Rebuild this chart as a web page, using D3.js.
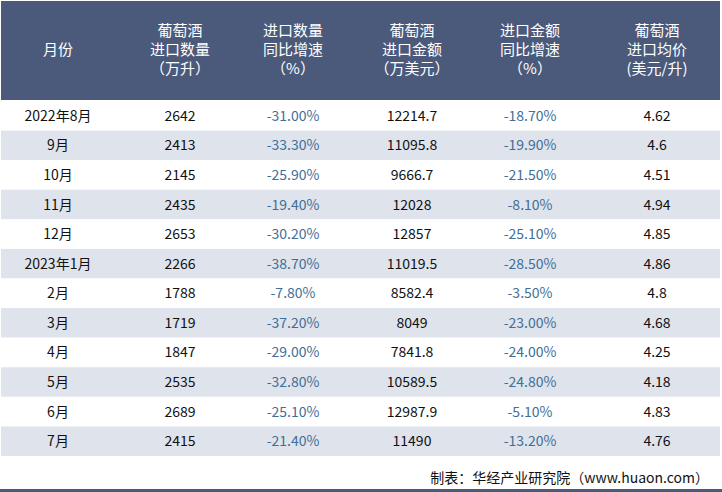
<!DOCTYPE html>
<html><head><meta charset="utf-8">
<script src="https://cdn.jsdelivr.net/npm/d3@7"></script>
<style>body{margin:0;background:#fff}</style>
</head><body><div id="app"></div>
<script>
// table data
const headers = [["月份"], ["葡萄酒", "进口数量", "（万升）"], ["进口数量", "同比增速", "（%）"],
  ["葡萄酒", "进口金额", "（万美元）"], ["进口金额", "同比增速", "（%）"], ["葡萄酒", "进口均价", "(美元/升)"]];
const months = ["2022年8月", "9月", "10月", "11月", "12月", "2023年1月", "2月", "3月", "4月", "5月", "6月", "7月"];
const volume = ["2642", "2413", "2145", "2435", "2653", "2266", "1788", "1719", "1847", "2535", "2689", "2415"];
const volumeYoy = ["-31.00%", "-33.30%", "-25.90%", "-19.40%", "-30.20%", "-38.70%", "-7.80%", "-37.20%", "-29.00%", "-32.80%", "-25.10%", "-21.40%"];
const amount = ["12214.7", "11095.8", "9666.7", "12028", "12857", "11019.5", "8582.4", "8049", "7841.8", "10589.5", "12987.9", "11490"];
const amountYoy = ["-18.70%", "-19.90%", "-21.50%", "-8.10%", "-25.10%", "-28.50%", "-3.50%", "-23.00%", "-24.00%", "-24.80%", "-5.10%", "-13.20%"];
const price = ["4.62", "4.6", "4.51", "4.94", "4.85", "4.86", "4.8", "4.68", "4.25", "4.18", "4.83", "4.76"];
const source = "制表：华经产业研究院（www.huaon.com）";

const W = 722, H = 492;
const svg = d3.select("#app").append("svg").attr("width", W).attr("height", H)
  .style("font-family", "'Noto Sans CJK SC', sans-serif");

const cols = [0, 1, 2, 3, 4, 5];
const x = d3.scaleBand().domain(cols).range([0, 718]);
const colCenters = [58, 180, 293, 412, 530, 657];
const y = d3.scaleBand().domain(d3.range(months.length)).range([101, 456]);

svg.append("rect").attr("x", 1).attr("y", 1).attr("width", 719).attr("height", 99).attr("fill", "#4b5a7b");

headers.forEach((lines, c) => {
  const t = svg.append("text").attr("fill", "#fff").attr("font-size", 15).attr("text-anchor", "middle");
  const y0 = 50 - (lines.length - 1) * 9.5;
  lines.forEach((l, i) => t.append("tspan").attr("x", colCenters[c]).attr("y", y0 + i * 19).attr("dy", "0.35em").text(l));
});

svg.selectAll("rect.row").data(months).join("rect").attr("class", "row")
  .attr("x", 1).attr("width", 719).attr("y", (d, i) => y(i)).attr("height", y.bandwidth())
  .attr("fill", (d, i) => i % 2 ? "#dfe3ec" : "#fff");

const columns = [months, volume, volumeYoy, amount, amountYoy, price];
columns.forEach((arr, c) => {
  svg.selectAll(null).data(arr).join("text")
    .attr("x", colCenters[c]).attr("y", (d, i) => y(i) + y.bandwidth() / 2).attr("dy", "0.36em")
    .attr("text-anchor", "middle").attr("font-size", 14)
    .attr("fill", (c === 2 || c === 4) ? "#3f6f97" : "#111")
    .text(d => d);
});

svg.append("text").attr("x", 709).attr("y", 478).attr("dy", "0.35em").attr("text-anchor", "end")
  .attr("font-size", 14).attr("fill", "#111").text(source);
svg.append("rect").attr("x", 0).attr("y", 489).attr("width", W).attr("height", 3).attr("fill", "#4b5a7b");
</script></body></html>
